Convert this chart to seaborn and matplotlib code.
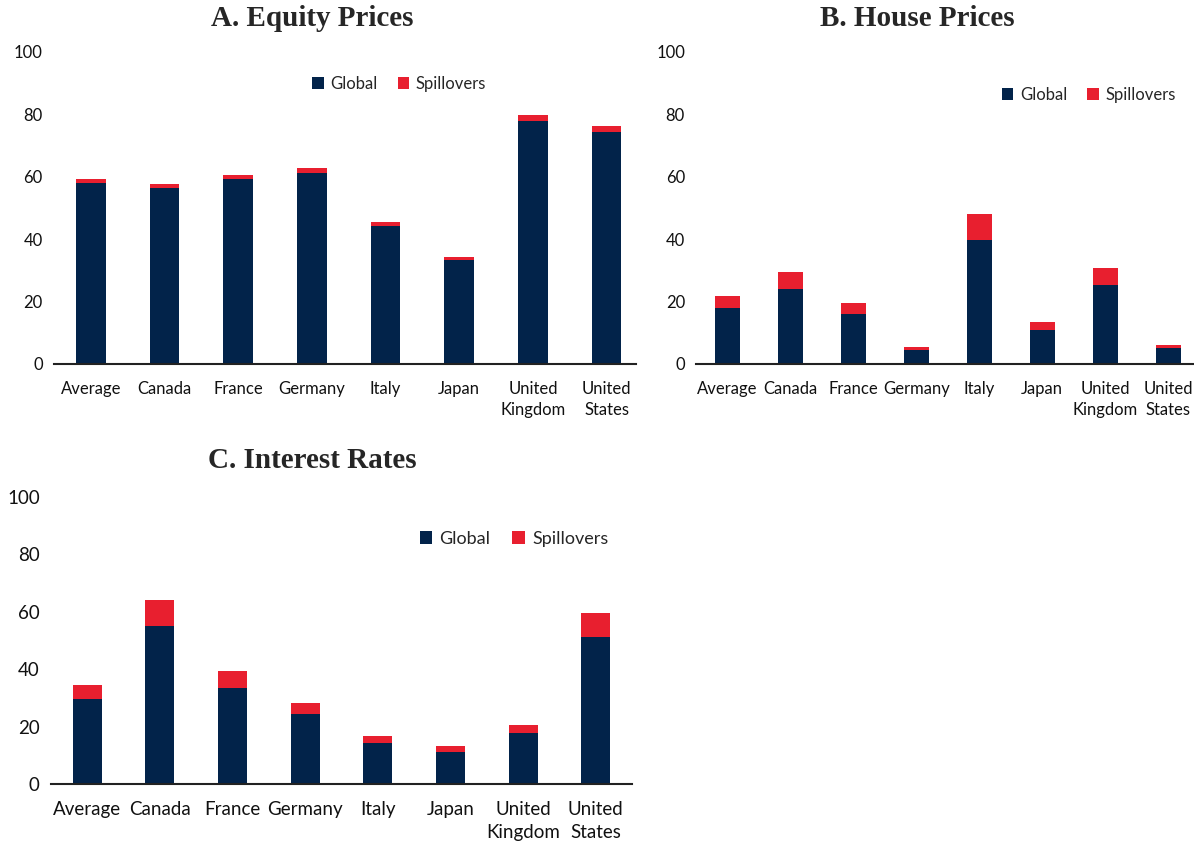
import numpy as np
import pandas as pd
import seaborn as sns
import matplotlib
matplotlib.use("Agg")
from matplotlib import pyplot as plt

sns.set_style("white")
plt.rcParams['font.family'] = ['Lato', 'DejaVu Sans']

# data
countries = ["Average", "Canada", "France", "Germany", "Italy", "Japan",
             "United\nKingdom", "United\nStates"]

equity_global = [58.1, 56.3, 59.2, 61.3, 44.3, 33.4, 77.9, 74.3]
equity_spill = [1.3, 1.4, 1.4, 1.5, 1.3, 0.9, 1.9, 2.0]

house_global = [17.9, 23.9, 15.9, 4.5, 39.7, 10.9, 25.3, 5.1]
house_spill = [3.9, 5.5, 3.5, 0.9, 8.3, 2.4, 5.6, 1.0]

rates_global = [29.7, 55.0, 33.5, 24.5, 14.3, 11.0, 17.8, 51.1]
rates_spill = [4.9, 9.1, 5.8, 3.8, 2.4, 2.2, 2.9, 8.6]

navy = "#02234A"
red = "#E81F2F"

fig = plt.figure(figsize=(11.94, 8.48), dpi=100)

# axes boxes measured in pixels from the reference
axA = fig.add_axes([0.0452, 0.5708, 0.4875, 0.368])
axB = fig.add_axes([0.583, 0.5708, 0.417, 0.368])
axC = fig.add_axes([0.0427, 0.0755, 0.4866, 0.3384])

panels = [
    (axA, equity_global, equity_spill, (-0.5, 7.4), (0.593, 0.897), 12, 12),
    (axB, house_global, house_spill, (-0.5, 7.41), (0.789, 0.862), 12, 12),
    (axC, rates_global, rates_spill, (-0.5, 7.5), (0.797, 0.854), 13.5, 13),
]

for ax, glob, spill, xl, legpos, fs, lfs in panels:
    df = pd.DataFrame({"country": countries, "Global": glob, "Spillovers": spill})
    df["total"] = df["Global"] + df["Spillovers"]
    sns.barplot(data=df, x="country", y="total", color=red, width=0.4,
                saturation=1, label="Spillovers", linewidth=0, ax=ax)
    sns.barplot(data=df, x="country", y="Global", color=navy, width=0.4,
                saturation=1, label="Global", linewidth=0, ax=ax)
    ax.set_ylim(0, 100)
    ax.set_xlim(*xl)
    ax.set_yticks(np.arange(0, 101, 20))
    ax.set_xlabel("")
    ax.set_ylabel("")
    for s in ["top", "right", "left"]:
        ax.spines[s].set_visible(False)
    ax.spines["bottom"].set_color("#222222")
    ax.spines["bottom"].set_linewidth(1.5)
    ax.tick_params(axis="both", length=0, labelsize=fs, colors="#111111")
    ax.tick_params(axis="x", pad=12)
    ax.tick_params(axis="y", pad=8)
    for t in ax.get_xticklabels():
        t.set_linespacing(1.45)
    h, l = ax.get_legend_handles_labels()
    order = [l.index("Global"), l.index("Spillovers")]
    ax.legend([h[i] for i in order], [l[i] for i in order], loc="center",
              bbox_to_anchor=legpos, ncol=2, frameon=False, fontsize=lfs,
              handlelength=0.7, handleheight=0.7, handletextpad=0.4,
              columnspacing=1.2)

title_kw = dict(ha="center", va="center", fontsize=21, fontweight="bold",
                family=["Liberation Serif", "DejaVu Serif"])
fig.text(312 / 1194, 1 - 19 / 848, "A. Equity Prices", **title_kw)
fig.text(917 / 1194, 1 - 19 / 848, "B. House Prices", **title_kw)
fig.text(312 / 1194, 1 - 460 / 848, "C. Interest Rates", **title_kw)

fig.savefig("out.png", dpi=100)
